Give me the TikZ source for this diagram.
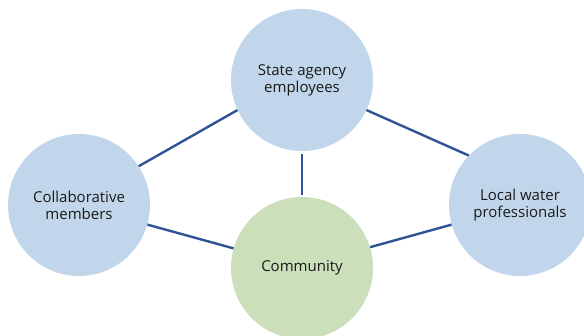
\documentclass[tikz,border=0pt]{standalone}
\usepackage{fontspec}
\setmainfont{Open Sans}
\definecolor{circblue}{RGB}{194,214,235}
\definecolor{circgreen}{RGB}{203,224,186}
\definecolor{linkblue}{RGB}{47,84,150}
\begin{document}
\begin{tikzpicture}[x=1pt,y=1pt,
  bubble/.style={circle,minimum size=142pt,inner sep=0pt,align=center,
    font=\fontsize{15}{17}\selectfont,text=black!90},
  link/.style={draw=linkblue,line width=2.4pt}]
\useasboundingbox (0,0) rectangle (584,335);
\clip (0,0) rectangle (584,335);
\node[bubble,fill=circblue] (state) at (302,255) {State agency\\employees};
\node[bubble,fill=circblue] (collab) at (79,130) {Collaborative\\members};
\node[bubble,fill=circblue] (local) at (520,130) {Local water\\professionals};
\node[bubble,fill=circgreen] (comm) at (302,67) {Community};
\draw[link] (collab.33) -- (state.-155);
\draw[link] (state.-25) -- (local.136);
\draw[link,shorten <=3pt,shorten >=2pt] (state.south) -- (comm.north);
\draw[link] (collab.-16) -- (comm.164);
\draw[link] (comm.17) -- (local.-164);
\end{tikzpicture}
\end{document}
